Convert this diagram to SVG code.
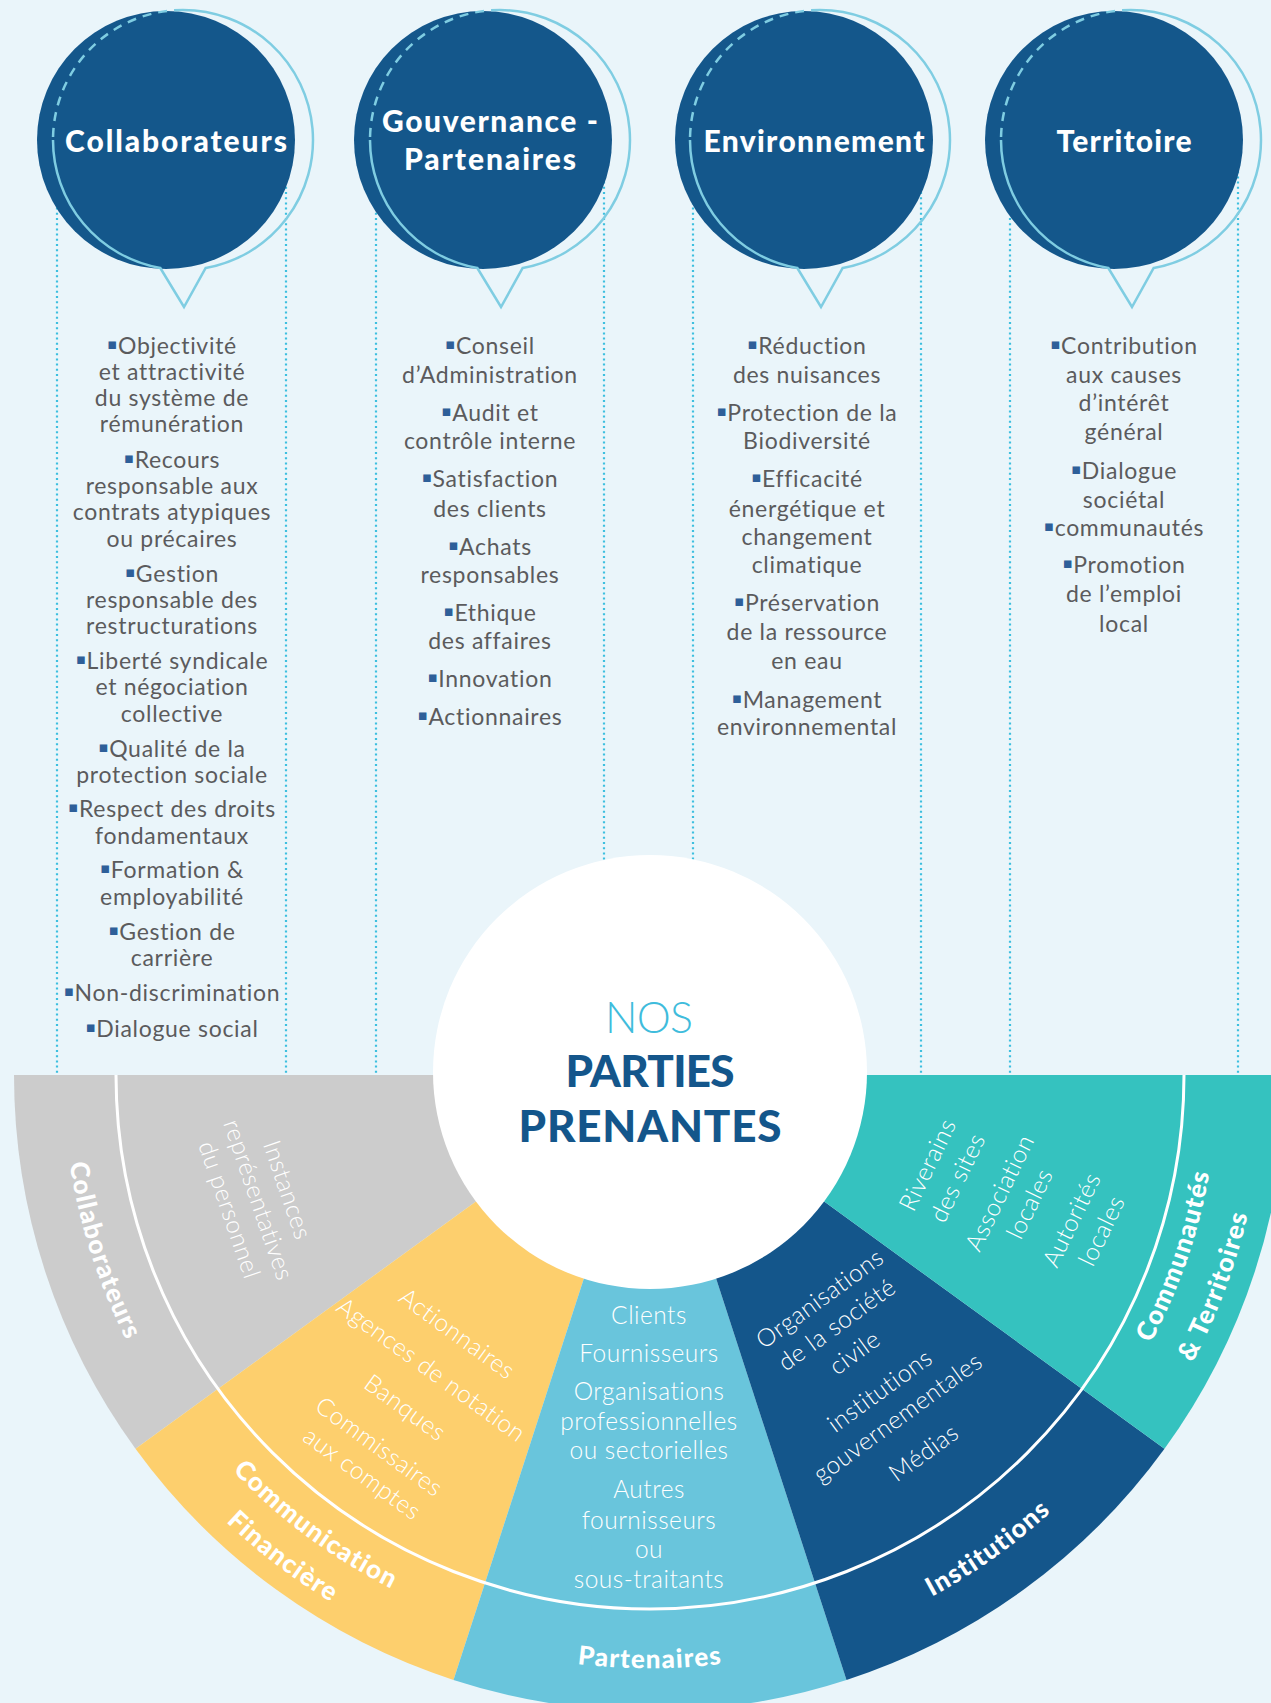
<svg xmlns="http://www.w3.org/2000/svg" width="1271" height="1703" viewBox="0 0 1271 1703">
<style>
.bg{fill:#eaf5fa}
.disc{fill:#14578b}
.ring{fill:none;stroke:#7fcde2;stroke-width:2.5}
.ringd{fill:none;stroke:#7fcde2;stroke-width:2.5;stroke-dasharray:9 7}
.dots{stroke:#3dbfdf;stroke-width:2.2;stroke-dasharray:2 3.2;fill:none}
.head{font-family:Lato,"Liberation Sans",sans-serif;font-weight:900;font-size:30px;fill:#fff;text-anchor:middle}
.col{font-family:Lato,"Liberation Sans",sans-serif;font-size:23px;letter-spacing:0.7px;fill:#5b5b5d;text-anchor:middle}
.b{font-family:"DejaVu Sans",sans-serif;font-size:15px;fill:#2e5f99}
.in{font-family:Lato,"Liberation Sans",sans-serif;font-weight:300;font-size:24.5px;letter-spacing:0.5px;fill:#fff;text-anchor:middle}
.out{font-family:Lato,"Liberation Sans",sans-serif;font-weight:900;font-size:26px;letter-spacing:1.2px;fill:#fff;text-anchor:middle}
</style>
<defs>
<path id="pCollab" d="M89.2 901.4 A587 587 0 0 0 295.1 1542.5"/>
<path id="pComm" d="M104.4 1256.5 A575 575 0 0 0 634 1649.8"/>
<path id="pFin" d="M63.1 1262.3 A616 616 0 0 0 625.3 1690.5"/>
<path id="pPart" d="M311 1562.1 A594 594 0 0 0 989 1562.1"/>
<path id="pInst" d="M655.2 1668 A593 593 0 0 0 1209 1272.9"/>
<path id="pCom" d="M983.9 1534.5 A568 568 0 0 0 1196 918.5"/>
<path id="pTer" d="M997.8 1581 A614 614 0 0 0 1244.4 921.3"/>
</defs>
<rect class="bg" x="0" y="0" width="1271" height="1703"/>

<g id="connectors">
<line class="dots" x1="57" y1="140" x2="57" y2="1075"/>
<line class="dots" x1="286" y1="140" x2="286" y2="1075"/>
<line class="dots" x1="376" y1="140" x2="376" y2="1075"/>
<line class="dots" x1="604" y1="140" x2="604" y2="1075"/>
<line class="dots" x1="693" y1="140" x2="693" y2="1075"/>
<line class="dots" x1="921" y1="140" x2="921" y2="1075"/>
<line class="dots" x1="1010" y1="140" x2="1010" y2="1075"/>
<line class="dots" x1="1238" y1="140" x2="1238" y2="1075"/>
</g>

<g id="bubble-collaborateurs">
<circle class="disc" cx="166" cy="140" r="129"/>
<path class="ringd" d="M183 10 A130 130 0 0 0 53 140"/>
<path class="ring" d="M53 140 A130 130 0 0 0 160.3 268 L184 307 L205.7 268 A130 130 0 0 0 183 10"/>
<text class="head" x="176" y="152" textLength="222" lengthAdjust="spacing">Collaborateurs</text>
</g>
<g id="bubble-gouvernance">
<circle class="disc" cx="483" cy="140" r="129"/>
<path class="ringd" d="M500 10 A130 130 0 0 0 370 140"/>
<path class="ring" d="M370 140 A130 130 0 0 0 477.3 268 L501 307 L522.7 268 A130 130 0 0 0 500 10"/>
<text class="head" x="490" y="132" textLength="216" lengthAdjust="spacing">Gouvernance -</text>
<text class="head" x="490" y="170" textLength="172" lengthAdjust="spacing">Partenaires</text>
</g>
<g id="bubble-environnement">
<circle class="disc" cx="804" cy="140" r="129"/>
<path class="ringd" d="M820 10 A130 130 0 0 0 690 140"/>
<path class="ring" d="M690 140 A130 130 0 0 0 797.3 268 L821 307 L842.7 268 A130 130 0 0 0 820 10"/>
<text class="head" x="814" y="152" textLength="221" lengthAdjust="spacing">Environnement</text>
</g>
<g id="bubble-territoire">
<circle class="disc" cx="1114" cy="140" r="129"/>
<path class="ringd" d="M1131 10 A130 130 0 0 0 1001 140"/>
<path class="ring" d="M1001 140 A130 130 0 0 0 1108.3 268 L1132 307 L1153.7 268 A130 130 0 0 0 1131 10"/>
<text class="head" x="1124" y="152" textLength="135" lengthAdjust="spacing">Territoire</text>
</g>

<g id="list-collaborateurs" class="col">
<text x="172" y="353.5"><tspan class="b" dy="-5">▪</tspan><tspan dy="5">Objectivité</tspan></text>
<text x="172" y="379.6">et attractivité</text>
<text x="172" y="405.7">du système de</text>
<text x="172" y="431.7">rémunération</text>
<text x="172" y="467.6"><tspan class="b" dy="-5">▪</tspan><tspan dy="5">Recours</tspan></text>
<text x="172" y="493.7">responsable aux</text>
<text x="172" y="519.7">contrats atypiques</text>
<text x="172" y="546.9">ou précaires</text>
<text x="172" y="581.7"><tspan class="b" dy="-5">▪</tspan><tspan dy="5">Gestion</tspan></text>
<text x="172" y="607.7">responsable des</text>
<text x="172" y="633.8">restructurations</text>
<text x="172" y="668.6"><tspan class="b" dy="-5">▪</tspan><tspan dy="5">Liberté syndicale</tspan></text>
<text x="172" y="694.6">et négociation</text>
<text x="172" y="721.8">collective</text>
<text x="172" y="756.5"><tspan class="b" dy="-5">▪</tspan><tspan dy="5">Qualité de la</tspan></text>
<text x="172" y="782.6">protection sociale</text>
<text x="172" y="817.4"><tspan class="b" dy="-5">▪</tspan><tspan dy="5">Respect des droits</tspan></text>
<text x="172" y="843.5">fondamentaux</text>
<text x="172" y="878.2"><tspan class="b" dy="-5">▪</tspan><tspan dy="5">Formation &amp;</tspan></text>
<text x="172" y="905.4">employabilité</text>
<text x="172" y="940.1"><tspan class="b" dy="-5">▪</tspan><tspan dy="5">Gestion de</tspan></text>
<text x="172" y="966.2">carrière</text>
<text x="172" y="1001"><tspan class="b" dy="-5">▪</tspan><tspan dy="5">Non-discrimination</tspan></text>
<text x="172" y="1036.8"><tspan class="b" dy="-5">▪</tspan><tspan dy="5">Dialogue social</tspan></text>
</g>
<g id="list-gouvernance" class="col">
<text x="490" y="353.5"><tspan class="b" dy="-5">▪</tspan><tspan dy="5">Conseil</tspan></text>
<text x="490" y="382.9">d’Administration</text>
<text x="490" y="420.9"><tspan class="b" dy="-5">▪</tspan><tspan dy="5">Audit et</tspan></text>
<text x="490" y="449.1">contrôle interne</text>
<text x="490" y="487.1"><tspan class="b" dy="-5">▪</tspan><tspan dy="5">Satisfaction</tspan></text>
<text x="490" y="516.5">des clients</text>
<text x="490" y="554.5"><tspan class="b" dy="-5">▪</tspan><tspan dy="5">Achats</tspan></text>
<text x="490" y="582.7">responsables</text>
<text x="490" y="620.8"><tspan class="b" dy="-5">▪</tspan><tspan dy="5">Ethique</tspan></text>
<text x="490" y="649">des affaires</text>
<text x="490" y="687"><tspan class="b" dy="-5">▪</tspan><tspan dy="5">Innovation</tspan></text>
<text x="490" y="725"><tspan class="b" dy="-5">▪</tspan><tspan dy="5">Actionnaires</tspan></text>
</g>
<g id="list-environnement" class="col">
<text x="807" y="353.5"><tspan class="b" dy="-5">▪</tspan><tspan dy="5">Réduction</tspan></text>
<text x="807" y="382.9">des nuisances</text>
<text x="807" y="420.9"><tspan class="b" dy="-5">▪</tspan><tspan dy="5">Protection de la</tspan></text>
<text x="807" y="449.1">Biodiversité</text>
<text x="807" y="487.1"><tspan class="b" dy="-5">▪</tspan><tspan dy="5">Efficacité</tspan></text>
<text x="807" y="516.5">énergétique et</text>
<text x="807" y="544.7">changement</text>
<text x="807" y="573">climatique</text>
<text x="807" y="611"><tspan class="b" dy="-5">▪</tspan><tspan dy="5">Préservation</tspan></text>
<text x="807" y="640.3">de la ressource</text>
<text x="807" y="668.6">en eau</text>
<text x="807" y="707.7"><tspan class="b" dy="-5">▪</tspan><tspan dy="5">Management</tspan></text>
<text x="807" y="734.8">environnemental</text>
</g>
<g id="list-territoire" class="col">
<text x="1124" y="353.5"><tspan class="b" dy="-5">▪</tspan><tspan dy="5">Contribution</tspan></text>
<text x="1124" y="382.9">aux causes</text>
<text x="1124" y="411.1">d’intérêt</text>
<text x="1124" y="440.4">général</text>
<text x="1124" y="478.5"><tspan class="b" dy="-5">▪</tspan><tspan dy="5">Dialogue</tspan></text>
<text x="1124" y="507.8">sociétal</text>
<text x="1124" y="536"><tspan class="b" dy="-5">▪</tspan><tspan dy="5">communautés</tspan></text>
<text x="1124" y="573"><tspan class="b" dy="-5">▪</tspan><tspan dy="5">Promotion</tspan></text>
<text x="1124" y="602.3">de l’emploi</text>
<text x="1124" y="631.6">local</text>
</g>

<g id="sector-collaborateurs">
<path fill="#cccccc" d="M650 1075 L135.5 1448.8 A636 636 0 0 1 14 1075 Z"/>
</g>
<g id="sector-communication">
<path fill="#fdcf6d" d="M650 1075 L453.5 1679.9 A636 636 0 0 1 135.5 1448.8 Z"/>
</g>
<g id="sector-partenaires">
<path fill="#69c5dc" d="M650 1075 L846.5 1679.9 A636 636 0 0 1 453.5 1679.9 Z"/>
</g>
<g id="sector-institutions">
<path fill="#14568b" d="M650 1075 L1164.5 1448.8 A636 636 0 0 1 846.5 1679.9 Z"/>
</g>
<g id="sector-communautes">
<path fill="#35c2bf" d="M650 1075 L1286 1075 A636 636 0 0 1 1164.5 1448.8 Z"/>
</g>
<path d="M116 1075 A534 534 0 0 0 1184 1075" fill="none" stroke="#ffffff" stroke-width="3"/>

<g id="labels-outer" class="out">
<text><textPath href="#pCollab" startOffset="50%">Collaborateurs</textPath></text>
<text><textPath href="#pComm" startOffset="50%">Communication</textPath></text>
<text><textPath href="#pFin" startOffset="50%">Financière</textPath></text>
<text><textPath href="#pPart" startOffset="50%">Partenaires</textPath></text>
<text><textPath href="#pInst" startOffset="50%">Institutions</textPath></text>
<text><textPath href="#pCom" startOffset="50%">Communautés</textPath></text>
<text><textPath href="#pTer" startOffset="50%">&amp; Territoires</textPath></text>
</g>

<g id="labels-inner" class="in">
<text transform="translate(287 1190) rotate(71)" y="8">Instances</text>
<text transform="translate(258 1200) rotate(71)" y="8">représentatives</text>
<text transform="translate(229 1210) rotate(71)" y="8">du personnel</text>
<text transform="translate(457 1334) rotate(36)" y="8">Actionnaires</text>
<text transform="translate(431 1370) rotate(36)" y="8">Agences de notation</text>
<text transform="translate(405 1408) rotate(36)" y="8">Banques</text>
<text transform="translate(379 1447) rotate(36)" y="8">Commissaires</text>
<text transform="translate(362 1474) rotate(36)" y="8">aux comptes</text>
<text x="649" y="1324">Clients</text>
<text x="649" y="1362">Fournisseurs</text>
<text x="649" y="1400">Organisations</text>
<text x="649" y="1430">professionnelles</text>
<text x="649" y="1459">ou sectorielles</text>
<text x="649" y="1498">Autres</text>
<text x="649" y="1529">fournisseurs</text>
<text x="649" y="1558">ou</text>
<text x="649" y="1588">sous-traitants</text>
<text transform="translate(820 1299) rotate(-36)" y="8">Organisations</text>
<text transform="translate(837 1325) rotate(-36)" y="8">de la société</text>
<text transform="translate(855 1353) rotate(-36)" y="8">civile</text>
<text transform="translate(880 1391) rotate(-36)" y="8">institutions</text>
<text transform="translate(898 1418) rotate(-36)" y="8">gouvernementales</text>
<text transform="translate(924 1453) rotate(-36)" y="8">Médias</text>
<text transform="translate(928 1165) rotate(-64)" y="8">Riverains</text>
<text transform="translate(958 1178) rotate(-64)" y="8">des sites</text>
<text transform="translate(1000 1193) rotate(-64)" y="8">Association</text>
<text transform="translate(1030 1204) rotate(-64)" y="8">locales</text>
<text transform="translate(1072 1220) rotate(-64)" y="8">Autorités</text>
<text transform="translate(1102 1231) rotate(-64)" y="8">locales</text>
</g>

<g id="center">
<circle cx="650" cy="1072" r="217" fill="#ffffff"/>
<text x="649" y="1033" font-family="Lato, 'Liberation Sans', sans-serif" font-weight="300" font-size="43" fill="#3fbcdc" text-anchor="middle" textLength="88" lengthAdjust="spacing">NOS</text>
<text x="650" y="1087" font-family="Lato, 'Liberation Sans', sans-serif" font-weight="900" font-size="44" fill="#14568b" text-anchor="middle" textLength="169" lengthAdjust="spacing">PARTIES</text>
<text x="650" y="1142" font-family="Lato, 'Liberation Sans', sans-serif" font-weight="900" font-size="44" fill="#14568b" text-anchor="middle" textLength="263" lengthAdjust="spacing">PRENANTES</text>
</g>
</svg>
